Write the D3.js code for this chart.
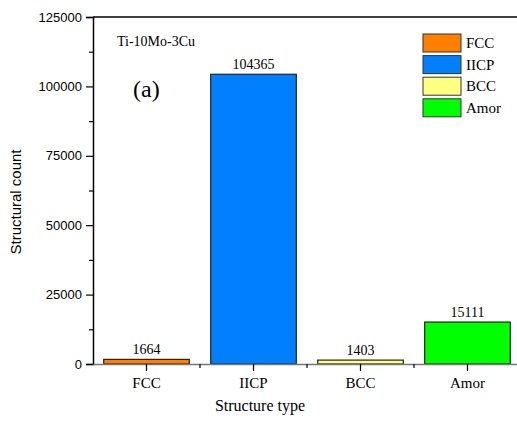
<!DOCTYPE html>
<html>
<head>
<meta charset="utf-8">
<script src="https://cdn.jsdelivr.net/npm/d3@7"></script>
<style>
  body { margin: 0; background: #fff; }
  svg { display: block; }
</style>
</head>
<body>
<div id="plot"></div>
<script>
var categories = ["FCC", "HCP", "BCC", "Amor"];
var tickLabels = ["FCC", "IICP", "BCC", "Amor"];
var legendLabels = ["FCC", "IICP", "BCC", "Amor"];
var counts = [1664, 104365, 1403, 15111];
var colors = ["#ff8000", "#0080ff", "#ffff80", "#00ff00"];
var yTicks = [0, 25000, 50000, 75000, 100000, 125000];

var width = 517, height = 421;
var plotLeft = 93, plotRight = 521, plotTop = 17, plotBottom = 364;
var serif = "'Times New Roman', 'Liberation Serif', 'DejaVu Serif', serif";
var sans = "Arial, 'Liberation Sans', sans-serif";

var svg = d3.select("#plot").append("svg").attr("width", width).attr("height", height);

var xScale = d3.scaleBand()
    .range([plotLeft, plotRight])
    .paddingInner(0.2)
    .paddingOuter(0.1)
    .domain(categories);

var yScale = d3.scaleLinear()
    .domain([0, 125000])
    .range([plotBottom, plotTop]);

// bars
svg.append("g")
    .selectAll("rect")
    .data(counts)
    .enter()
    .append("rect")
    .attr("x", function(d, i) { return xScale(categories[i]); })
    .attr("y", function(d) { return yScale(d); })
    .attr("width", xScale.bandwidth())
    .attr("height", function(d) { return plotBottom - yScale(d); })
    .attr("fill", function(d, i) { return colors[i]; })
    .attr("stroke", "#222")
    .attr("stroke-width", 1.2);

// value labels
svg.append("g")
    .selectAll("text")
    .data(counts)
    .enter()
    .append("text")
    .attr("x", function(d, i) { return xScale(categories[i]) + xScale.bandwidth() / 2; })
    .attr("y", function(d) { return yScale(d) - 5; })
    .attr("text-anchor", "middle")
    .attr("font-family", serif)
    .attr("font-size", 14)
    .text(function(d) { return d; });

// top frame line
svg.append("line")
    .attr("x1", plotLeft).attr("x2", width)
    .attr("y1", plotTop).attr("y2", plotTop)
    .attr("stroke", "#000").attr("stroke-width", 1.5);

// y axis
var yAxis = svg.append("g")
    .attr("transform", "translate(" + plotLeft + ",0)")
    .call(d3.axisLeft(yScale).tickValues(yTicks).tickSize(7).tickPadding(4).tickFormat(d3.format("d")));
yAxis.attr("font-family", sans).attr("font-size", 13);
yAxis.select(".domain").attr("stroke-width", 1.5);
yAxis.selectAll(".tick line").attr("stroke-width", 1.2);
yAxis.selectAll("text").attr("fill", "#000");
svg.append("g")
    .attr("transform", "translate(" + plotLeft + ",0)")
    .call(d3.axisLeft(yScale).tickValues([12500, 37500, 62500, 87500, 112500]).tickSize(4).tickFormat(""))
    .call(function(g) { g.select(".domain").remove(); g.selectAll("line").attr("stroke-width", 1.2); });

// x axis
var xAxis = svg.append("g")
    .attr("transform", "translate(0," + plotBottom + ")")
    .call(d3.axisBottom(xScale).tickSize(7).tickPadding(6).tickSizeOuter(0)
        .tickFormat(function(d, i) { return tickLabels[i]; }));
xAxis.attr("font-family", serif).attr("font-size", 15);
xAxis.select(".domain").attr("stroke", "#777").attr("stroke-width", 1.5);
xAxis.selectAll(".tick line").attr("stroke-width", 1.2);
xAxis.selectAll("text").attr("fill", "#000");
var step = xScale.step();
svg.append("g")
    .selectAll("line")
    .data(categories.slice(1))
    .enter()
    .append("line")
    .attr("x1", function(d) { return xScale(d) - step * 0.1; })
    .attr("x2", function(d) { return xScale(d) - step * 0.1; })
    .attr("y1", plotBottom).attr("y2", plotBottom + 4)
    .attr("stroke", "#000").attr("stroke-width", 1.2);

// axis titles
svg.append("text")
    .attr("x", 260).attr("y", 411)
    .attr("text-anchor", "middle")
    .attr("font-family", serif).attr("font-size", 16)
    .text("Structure type");
svg.append("text")
    .attr("transform", "translate(21,202) rotate(-90)")
    .attr("text-anchor", "middle")
    .attr("font-family", sans).attr("font-size", 15)
    .text("Structural count");

// annotations
svg.append("text")
    .attr("x", 117).attr("y", 46)
    .attr("font-family", serif).attr("font-size", 14)
    .text("Ti-10Mo-3Cu");
svg.append("text")
    .attr("x", 133).attr("y", 97)
    .attr("font-family", serif).attr("font-size", 24)
    .text("(a)");

// legend
var legend = svg.append("g").attr("transform", "translate(423,34)");
var item = legend.selectAll("g")
    .data(legendLabels)
    .enter()
    .append("g")
    .attr("transform", function(d, i) { return "translate(0," + (i * 21.6) + ")"; });
item.append("rect")
    .attr("width", 38).attr("height", 18)
    .attr("fill", function(d, i) { return colors[i]; })
    .attr("stroke", "#333").attr("stroke-width", 1);
item.append("text")
    .attr("x", 43).attr("y", 14)
    .attr("font-family", serif).attr("font-size", 15)
    .text(function(d) { return d; });
</script>
</body>
</html>
